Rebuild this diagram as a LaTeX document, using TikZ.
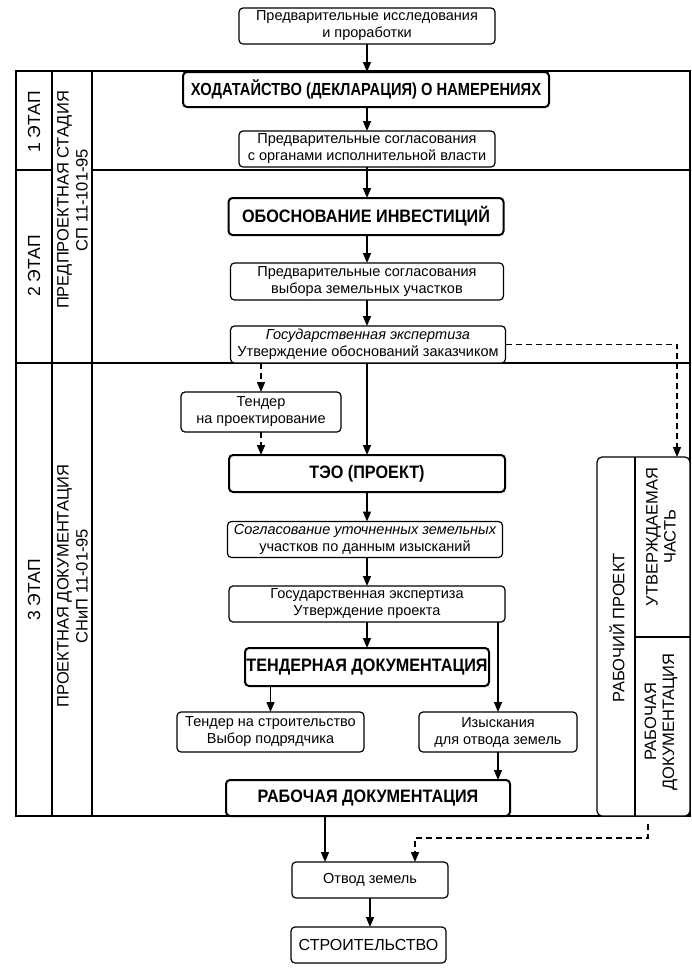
\documentclass[tikz,border=0pt]{standalone}
\usepackage{fontspec}
\setmainfont{Liberation Sans}
\newfontfamily\hfont{Liberation Sans}[FakeStretch=0.9]
\newfontfamily\hodfont{Liberation Sans}[FakeStretch=0.84]
\usetikzlibrary{arrows.meta}
\begin{document}
\begin{tikzpicture}[x=1pt,y=-1pt,
  every node/.style={inner sep=0pt, outer sep=0pt},
  box/.style={draw, fill=white, rounded corners=4pt, line width=1.2pt, align=center,
    font=\fontsize{14.5}{17}\selectfont},
  hbox/.style={box, line width=2pt, font=\hfont\bfseries\fontsize{18}{20}\selectfont},
  lab/.style={rotate=90, align=center, font=\fontsize{16.5}{19}\selectfont},
  stagelab/.style={rotate=90, font=\fontsize{17.5}{20}\selectfont},
  arr/.style={line width=1.4pt, -{Triangle[length=10pt,width=8pt]}},
  darr/.style={arr, dash pattern=on 6pt off 4pt},
  frame/.style={line width=1.1pt}
]
\useasboundingbox (0,0) rectangle (692,970);
% frame
\draw[frame] (16,71) rectangle (690,816);
\draw[frame] (52,71) -- (52,816);
\draw[frame] (92,71) -- (92,816);
\draw[frame] (16,170) -- (52,170);
\draw[frame] (92,170) -- (690,170);
\draw[frame] (16,363) -- (690,363);
% right box
\node[draw, fill=white, rounded corners=5pt, line width=1.2pt, minimum width=93pt, minimum height=359pt] (rp) at (643.5,636.5) {};
\draw[frame] (635,457) -- (635,816);
\draw[frame] (635,637) -- (690,637);
% labels
\node[stagelab] (s1) at (34,122) {1 ЭТАП};
\node[stagelab] (s2) at (34,266) {2 ЭТАП};
\node[stagelab] (s3) at (34,590) {3 ЭТАП};
\node[lab] (c1) at (72.5,200) {ПРЕДПРОЕКТНАЯ СТАДИЯ\\СП 11-101-95};
\node[lab] (c2) at (72.5,586) {ПРОЕКТНАЯ ДОКУМЕНТАЦИЯ\\СНиП 11-01-95};
\node[lab] (r1) at (617,628) {РАБОЧИЙ ПРОЕКТ};
\node[lab, font=\fontsize{16.5}{18}\selectfont] (r2) at (661,537) {УТВЕРЖДАЕМАЯ\\ЧАСТЬ};
\node[lab, font=\fontsize{16.5}{18}\selectfont] (r3) at (661,722) {РАБОЧАЯ\\ДОКУМЕНТАЦИЯ};
% boxes
\node[box, minimum width=256pt, minimum height=36pt] (top) at (367,26) {Предварительные исследования\\и проработки};
\node[hbox, font=\hodfont\bfseries\fontsize{17.5}{20}\selectfont, minimum width=366pt, minimum height=35pt] (hod) at (366,89.5) {ХОДАТАЙСТВО (ДЕКЛАРАЦИЯ) О НАМЕРЕНИЯХ};
\node[box, minimum width=256pt, minimum height=36pt] (sog1) at (367,149) {Предварительные согласования\\с органами исполнительной власти};
\node[hbox, minimum width=275pt, minimum height=37pt] (obos) at (366,216.5) {ОБОСНОВАНИЕ ИНВЕСТИЦИЙ};
\node[box, minimum width=273pt, minimum height=37pt] (vyb) at (367,281.5) {Предварительные согласования\\выбора земельных участков};
\node[box, minimum width=275pt, minimum height=37pt] (gos1) at (368,344.5) {{\itshape Государственная экспертиза}\\Утверждение обоснований заказчиком};
\node[box, minimum width=160pt, minimum height=40pt] (tend) at (261,412) {Тендер\\на проектирование};
\node[hbox, minimum width=276pt, minimum height=37pt] (teo) at (367,473.5) {ТЭО (ПРОЕКТ)};
\node[box, minimum width=275pt, minimum height=36pt] (sog2) at (365,539.5) {{\itshape Согласование уточненных земельных}\\участков по данным изысканий};
\node[box, minimum width=276pt, minimum height=36pt] (gos2) at (367,604) {Государственная экспертиза\\Утверждение проекта};
\node[hbox, minimum width=244pt, minimum height=38pt] (tdoc) at (367,667) {ТЕНДЕРНАЯ ДОКУМЕНТАЦИЯ};
\node[box, minimum width=187pt, minimum height=40pt] (tstr) at (270.5,732) {Тендер на строительство\\Выбор подрядчика};
\node[box, minimum width=158pt, minimum height=40pt] (izy) at (498,732) {Изыскания\\для отвода земель};
\node[hbox, minimum width=284pt, minimum height=36pt] (rdoc) at (368,798) {РАБОЧАЯ ДОКУМЕНТАЦИЯ};
\node[box, minimum width=156pt, minimum height=36pt] (otv) at (370,880) {Отвод земель};
\node[box, font=\fontsize{16}{18}\selectfont, minimum width=155pt, minimum height=36pt] (stroi) at (368.5,945) {СТРОИТЕЛЬСТВО};
% helper coordinates
\coordinate (rpin) at (677,457);
\coordinate (rpout) at (648,824);
\coordinate (a1) at (325,0);
\coordinate (a2) at (415,838);
% connectors
\draw[arr] (top.south) -- (hod.north -| top.south);
\draw[arr] (hod.south -| sog1.north) -- (sog1.north);
\draw[arr] (sog1.south) -- (obos.north -| sog1.south);
\draw[arr] (obos.south -| vyb.north) -- (vyb.north);
\draw[arr] (vyb.south) -- (vyb.south |- gos1.north);
\draw[arr] (gos1.south -| teo.north) -- (teo.north);
\draw[darr] (tend.north |- gos1.south) -- (tend.north);
\draw[darr] (tend.south) -- (tend.south |- teo.north);
\draw[darr] (gos1.east) -| (rpin);
\draw[arr] (teo.south) -- (sog2.north -| teo.south);
\draw[arr] (sog2.south -| gos2.north) -- (gos2.north);
\draw[arr] (gos2.south) -- (tdoc.north);
\draw[arr] (izy.north |- gos2.south) -- (izy.north);
\draw[arr] (tstr.north |- tdoc.south) -- (tstr.north);
\draw[arr] (izy.south) -- (izy.south |- rdoc.north);
\draw[arr] (a1 |- rdoc.south) -- (a1 |- otv.north);
\draw[darr] (rpout) |- (a2) -- (a2 |- otv.north);
\draw[arr] (otv.south) -- (stroi.north -| otv.south);
\end{tikzpicture}
\end{document}
